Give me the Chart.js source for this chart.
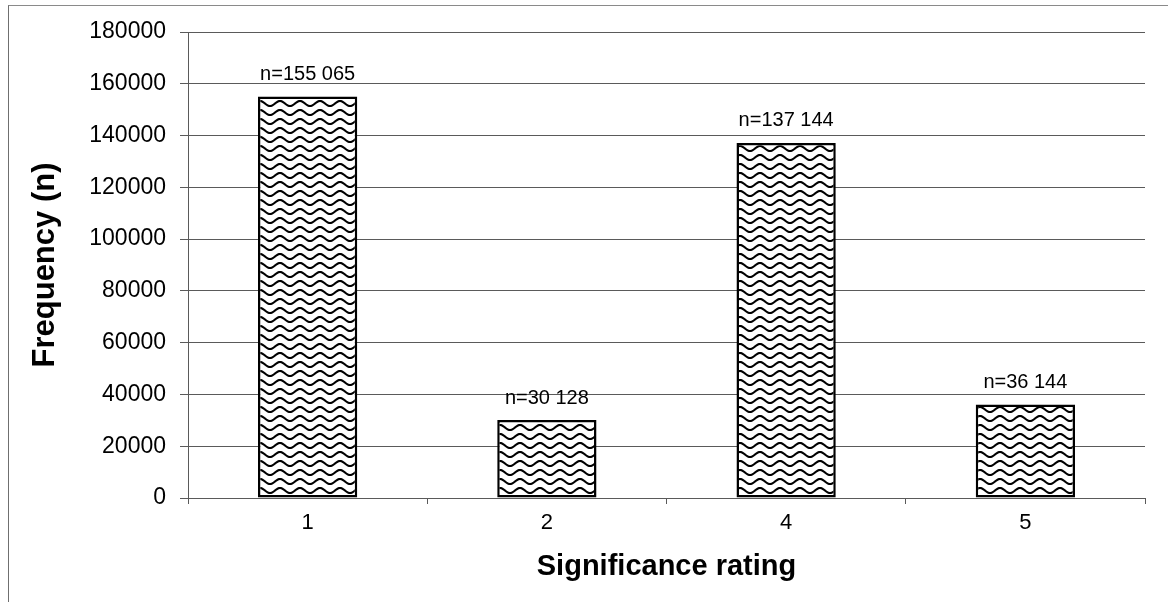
<!DOCTYPE html>
<html>
<head>
<meta charset="utf-8">
<script src="https://cdn.jsdelivr.net/npm/chart.js@4/dist/chart.umd.min.js"></script>
<style>
  html, body { margin: 0; padding: 0; background: #fff; overflow: hidden; }
  #wrap { position: relative; width: 1168px; height: 602px; }
  #frame { position: absolute; left: 8px; top: 5px; width: 1200px; height: 700px;
           border-top: 1px solid #8a8a8a; border-left: 1px solid #6f6f6f; }
  #c { position: absolute; left: 0; top: 0; }
</style>
</head>
<body>
<div id="wrap">
  <div id="frame"></div>
  <canvas id="c" width="1168" height="602"></canvas>
</div>
<script>
// Significance ratings and how often each was assigned
const ratings = ['1', '2', '4', '5'];
const frequencies = [155065, 30128, 137144, 36144];
const yTicks = [0, 20000, 40000, 60000, 80000, 100000, 120000, 140000, 160000, 180000];

const FONT = '"Liberation Sans", Arial, Helvetica, sans-serif';

// Wavy-line hatch fill used for the bars
function wavePattern() {
  const w = 20, h = 9;
  const cv = document.createElement('canvas');
  cv.width = w; cv.height = h;
  const g = cv.getContext('2d');
  g.fillStyle = '#fff';
  g.fillRect(0, 0, w, h);
  g.strokeStyle = '#000';
  g.lineWidth = 2.1;
  g.beginPath();
  for (let x = -2; x <= w + 2; x += 0.5) {
    const y = h / 2 - 2.5 * Math.cos((x / w) * 2 * Math.PI);
    if (x === -2) g.moveTo(x, y); else g.lineTo(x, y);
  }
  g.stroke();
  return g.createPattern(cv, 'repeat');
}

// "n=155 065" style value labels above each bar
function formatN(v) {
  return 'n=' + String(v).replace(/\B(?=(\d{3})+(?!\d))/g, ' ');
}
const barLabels = {
  id: 'barLabels',
  afterDatasetsDraw(chart) {
    const ctx = chart.ctx;
    const meta = chart.getDatasetMeta(0);
    const data = chart.data.datasets[0].data;
    ctx.save();
    ctx.font = '20px ' + FONT;
    ctx.fillStyle = '#000';
    ctx.textAlign = 'center';
    ctx.textBaseline = 'bottom';
    meta.data.forEach((bar, i) => {
      ctx.fillText(formatN(data[i]), bar.x, bar.y - 12);
    });
    ctx.restore();
  }
};

const GRID = '#5a5a5a';

new Chart(document.getElementById('c'), {
  type: 'bar',
  data: {
    labels: ratings,
    datasets: [{
      data: frequencies,
      backgroundColor: wavePattern(),
      borderColor: '#000',
      borderWidth: 2.5,
      borderSkipped: false,
      categoryPercentage: 1,
      barPercentage: 0.415
    }]
  },
  options: {
    responsive: false,
    animation: false,
    devicePixelRatio: 1,
    layout: { padding: { left: 27, top: 32, right: 23, bottom: 10 } },
    plugins: {
      legend: { display: false },
      tooltip: { enabled: false }
    },
    scales: {
      x: {
        offset: true,
        grid: {
          offset: true,
          drawOnChartArea: false,
          drawTicks: true,
          tickLength: 6,
          color: GRID
        },
        border: { display: true, color: GRID, width: 1 },
        ticks: { color: '#000', font: { family: FONT, size: 22 }, padding: 6 },
        title: {
          display: true,
          text: 'Significance rating',
          color: '#000',
          font: { family: FONT, size: 29, weight: 'bold' },
          padding: { top: 0, bottom: 8 }
        },
        afterFit(scale) { scale.height = 94; }
      },
      y: {
        min: 0,
        max: 180000,
        afterBuildTicks(scale) { scale.ticks = yTicks.map(v => ({ value: v })); },
        grid: { color: GRID, lineWidth: 1, drawTicks: true, tickLength: 8 },
        border: { display: true, color: GRID, width: 1 },
        ticks: {
          color: '#000',
          font: { family: FONT, size: 23 },
          padding: 14,
          callback: v => String(v)
        },
        title: {
          display: true,
          text: 'Frequency (n)',
          color: '#000',
          font: { family: FONT, size: 31, weight: 'bold' },
          padding: 0
        },
        afterFit(scale) { scale.width = 161; }
      }
    }
  },
  plugins: [barLabels]
});
</script>
</body>
</html>
